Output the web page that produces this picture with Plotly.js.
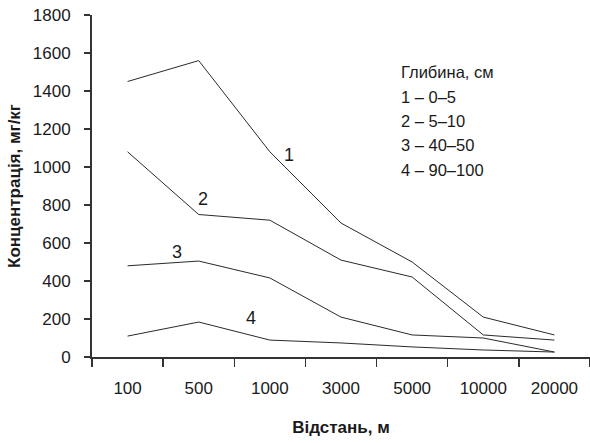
<!DOCTYPE html>
<html><head><meta charset="utf-8">
<script src="https://cdn.plot.ly/plotly-3.0.1.min.js"></script>
<style>body{margin:0;background:#fff}#c{width:590px;height:443px}</style>
</head><body><div id="c"></div>
<script>
const distances = ['100','500','1000','3000','5000','10000','20000'];
const depth1 = [1450, 1560, 1080, 705, 500, 210, 116];
const depth2 = [1080, 750, 720, 510, 421, 116, 89];
const depth3 = [480, 505, 416, 210, 116, 100, 26];
const depth4 = [110, 184, 89, 74, 53, 37, 26];
const seriesNames = ['1', '2', '3', '4'];
const legendLines = ['Глибина, см', '1 – 0–5', '2 – 5–10', '3 – 40–50', '4 – 90–100'];

const F = 'Liberation Sans, Arial, sans-serif';
const lineColor = '#2a2a2a';
const traces = [depth1, depth2, depth3, depth4].map((v, i) => ({
  x: distances, y: v, type: 'scatter', mode: 'lines', name: seriesNames[i],
  line: {color: lineColor, width: 1}, hoverinfo: 'skip'
}));

const labelPos = [[2.27, 1063], [1.06, 832], [0.70, 553], [1.74, 205]];
const annotations = seriesNames.map((n, i) => ({
  x: labelPos[i][0], y: labelPos[i][1], xref: 'x', yref: 'y', text: n,
  showarrow: false, font: {family: F, size: 18, color: '#1a1a1a'}
}));
legendLines.forEach((t, i) => annotations.push({
  x: 0.616, y: 0.833 - i * 0.0715, xref: 'paper', yref: 'paper', text: t,
  xanchor: 'left', yanchor: 'middle', showarrow: false,
  font: {family: F, size: 16.5, color: '#1a1a1a'}
}));

const layout = {
  width: 590, height: 443,
  margin: {l: 92, r: 0, t: 15, b: 86},
  paper_bgcolor: '#fff', plot_bgcolor: '#fff',
  showlegend: false,
  font: {family: F, color: '#1a1a1a'},
  xaxis: {
    type: 'category', range: [-0.5, 6.5], tickson: 'boundaries',
    showline: true, linecolor: '#333', linewidth: 2,
    ticks: 'outside', ticklen: 8, tickcolor: '#333', tickwidth: 1.5,
    showgrid: false, zeroline: false, ticklabelstandoff: 15,
    tickfont: {family: F, size: 17, color: '#1a1a1a'},
    title: {text: '<b>Відстань, м</b>', font: {family: F, size: 17, color: '#1a1a1a'}, standoff: 24}
  },
  yaxis: {
    range: [0, 1800], dtick: 200, tick0: 0,
    showline: true, linecolor: '#333', linewidth: 2,
    ticks: 'outside', ticklen: 6, tickcolor: '#333', tickwidth: 1.5,
    showgrid: false, zeroline: false, ticklabelstandoff: 10,
    tickfont: {family: F, size: 17, color: '#1a1a1a'},
    title: {text: '<b>Концентрація, мг/кг</b>', font: {family: F, size: 17, color: '#1a1a1a'}, standoff: 8}
  },
  annotations: annotations
};
Plotly.newPlot('c', traces, layout, {staticPlot: true});
</script></body></html>
